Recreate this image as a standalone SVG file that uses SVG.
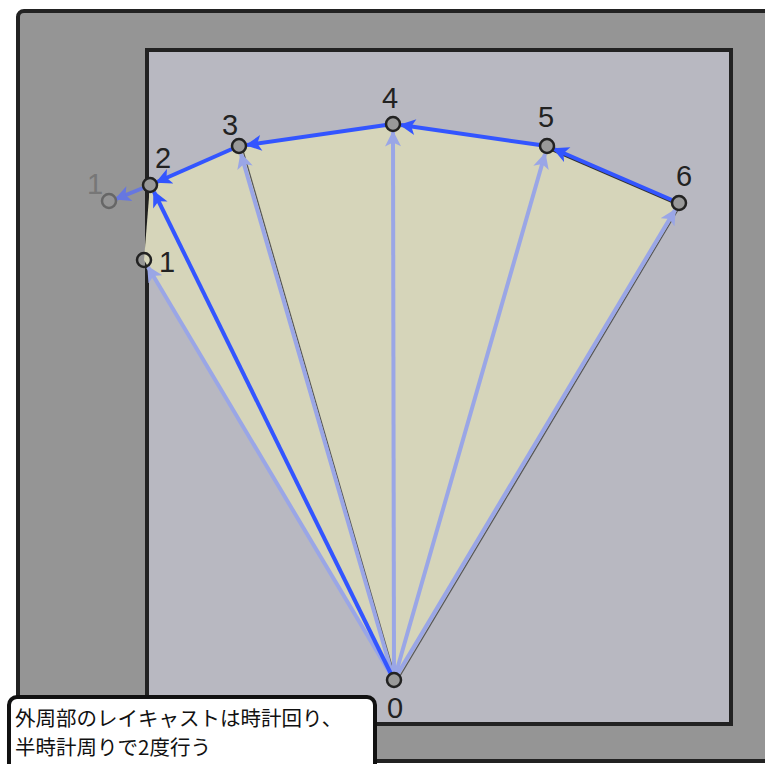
<svg xmlns="http://www.w3.org/2000/svg" width="765" height="764" viewBox="0 0 765 764">
<style>
.lbl{font-family:"Liberation Sans","DejaVu Sans",sans-serif;font-size:29px;fill:#222;text-anchor:middle}
.pt{fill:#999;stroke:#222;stroke-width:2.5}
.ray{stroke:#9aa6e6;stroke-width:4;fill:none;marker-end:url(#ah-light)}
.per{stroke:#3355ff;stroke-width:4;fill:none;marker-end:url(#ah-blue)}
.note{font-family:"Noto Sans CJK JP",sans-serif;font-size:20.5px;fill:#111}
</style>
<defs>
<marker id="ah-light" viewBox="0 0 10 10" refX="9" refY="5" markerWidth="4.5" markerHeight="4" orient="auto" markerUnits="strokeWidth"><path d="M0,0 L10,5 L0,10 L2.5,5 Z" fill="#9aa6e6"/></marker>
<marker id="ah-blue" viewBox="0 0 10 10" refX="9" refY="5" markerWidth="4.5" markerHeight="4" orient="auto" markerUnits="strokeWidth"><path d="M0,0 L10,5 L0,10 L2.5,5 Z" fill="#3355ff"/></marker>
<marker id="ah-mid" viewBox="0 0 10 10" refX="9" refY="5" markerWidth="4.5" markerHeight="4" orient="auto" markerUnits="strokeWidth"><path d="M0,0 L10,5 L0,10 L2.5,5 Z" fill="#6677e0"/></marker>
</defs>
<rect x="0" y="0" width="765" height="764" fill="#ffffff"/>
<g id="outer-wall"><rect x="18" y="11" width="780" height="750" rx="6" fill="#959595" stroke="#222" stroke-width="4"/></g>
<g id="room"><rect x="147" y="50" width="584" height="674" fill="#b8b8c1" stroke="#222" stroke-width="4"/></g>
<g id="fan">
<polygon points="394,680 144,260 150,185 239,146 393,124 547,146 679,203" fill="#d6d5ba"/>
<line x1="396" y1="680" x2="242" y2="147" stroke="#555" stroke-width="1.2"/>
<line x1="397" y1="681" x2="681" y2="205" stroke="#555" stroke-width="1.2"/>
<line x1="679" y1="205" x2="547" y2="148" stroke="#333" stroke-width="2"/>
</g>
<g id="connectors">
<line class="ray" x1="394" y1="680" x2="148" y2="267"/>
<line class="ray" x1="394" y1="680" x2="241" y2="154"/>
<line class="ray" x1="394" y1="680" x2="393" y2="132"/>
<line class="ray" x1="394" y1="680" x2="545" y2="154"/>
<line class="ray" x1="394" y1="680" x2="675" y2="210"/>
<line class="per" x1="394" y1="680" x2="154" y2="192"/>
<line class="per" x1="672" y1="200" x2="554" y2="149"/>
<line class="per" x1="540" y1="145" x2="401" y2="125"/>
<line class="per" x1="386" y1="125" x2="247" y2="145"/>
<line class="per" x1="232" y1="149" x2="157" y2="182"/>
<line x1="143" y1="188" x2="116" y2="199" stroke="#6677e0" stroke-width="4" marker-end="url(#ah-mid)"/>
</g>
<g id="node-1ghost"><circle cx="109" cy="201" r="7" fill="#959595" stroke="#666" stroke-width="2.5"/><text x="95" y="194" class="lbl" style="fill:#777">1</text></g>
<g id="node-0"><circle cx="394" cy="680" r="7" class="pt"/><text x="395" y="718" class="lbl">0</text></g>
<g id="node-1"><circle cx="144" cy="260" r="7" fill="none" stroke="#222" stroke-width="2.5"/><text x="167" y="272" class="lbl">1</text></g>
<g id="node-2"><circle cx="150" cy="185" r="7" class="pt"/><text x="163" y="168" class="lbl">2</text></g>
<g id="node-3"><circle cx="239" cy="146" r="7" class="pt"/><text x="230" y="135" class="lbl">3</text></g>
<g id="node-4"><circle cx="393" cy="124" r="7" class="pt"/><text x="390" y="108" class="lbl">4</text></g>
<g id="node-5"><circle cx="547" cy="146" r="7" class="pt"/><text x="546" y="127" class="lbl">5</text></g>
<g id="node-6"><circle cx="679" cy="203" r="7" class="pt"/><text x="684" y="186" class="lbl">6</text></g>
<g id="note">
<rect x="9" y="697" width="366" height="90" rx="8" fill="#fff" stroke="#111" stroke-width="4"/>
<text x="15" y="726" class="note">外周部のレイキャストは時計回り、</text>
<text x="15" y="755" class="note">半時計周りで2度行う</text>
</g>
</svg>
